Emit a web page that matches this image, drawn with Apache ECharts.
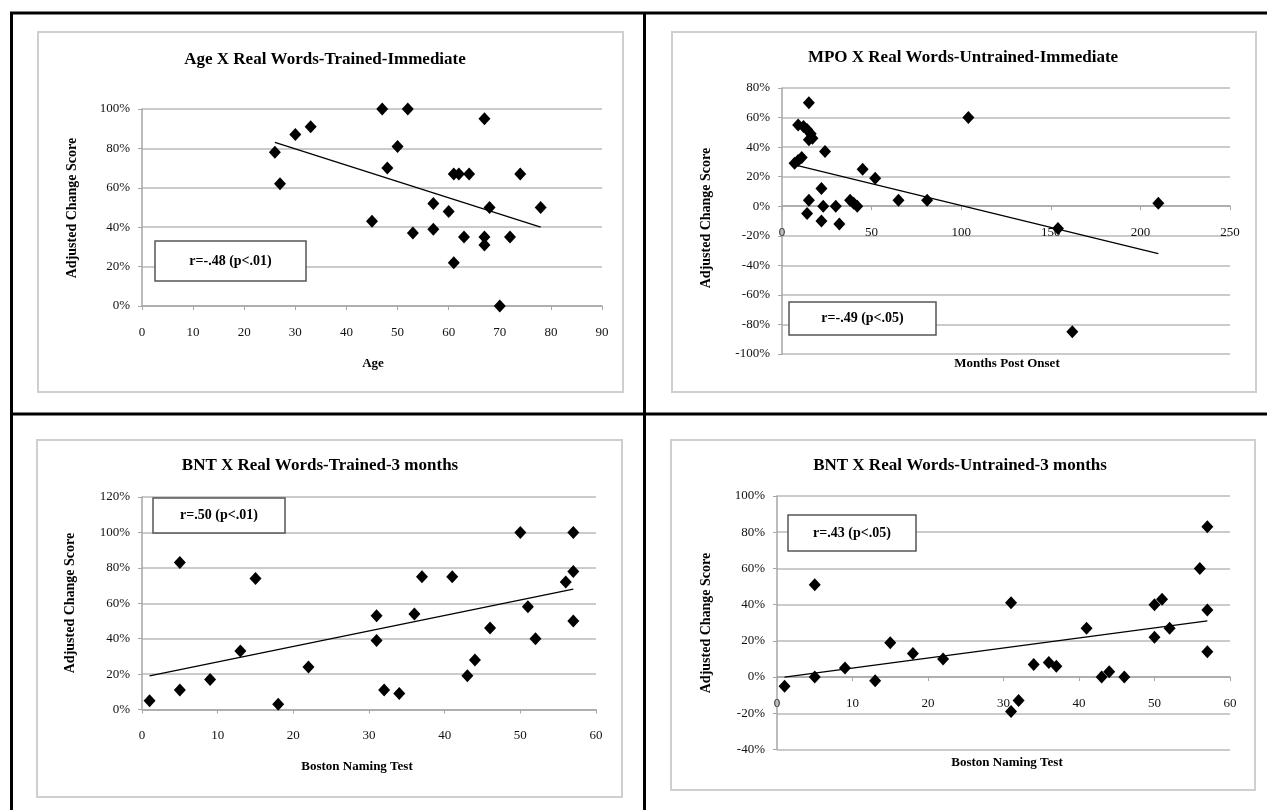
<!DOCTYPE html>
<html>
<head>
<meta charset="utf-8">
<script src="https://cdn.jsdelivr.net/npm/echarts@6/dist/echarts.min.js"></script>
<style>
html, body { margin: 0; padding: 0; background: #fff; }
#main { width: 1267px; height: 810px; }
</style>
</head>
<body>
<div id="main"></div>
<script>
// Age X Real Words-Trained-Immediate
const ageX = [26, 27, 30, 33, 45, 47, 48, 50, 52, 53, 57, 57, 60, 61, 61, 62, 63, 64, 67, 67, 67, 68, 70, 72, 74, 78]
const ageY = [78, 62, 87, 91, 43, 100, 70, 81, 100, 37, 52, 39, 48, 67, 22, 67, 35, 67, 95, 35, 31, 50, 0, 35, 67, 50]
const ageTrend = [[26, 83], [78, 40]]

// MPO X Real Words-Untrained-Immediate
const mpoX = [15, 9, 12, 14, 16, 17, 15, 7, 9, 11, 24, 15, 14, 22, 23, 22, 30, 32, 38, 40, 42, 45, 52, 65, 81, 104, 154, 162, 210]
const mpoY = [70, 55, 54, 52, 49, 46, 45, 29, 31, 33, 37, 4, -5, 12, 0, -10, 0, -12, 4, 2, 0, 25, 19, 4, 4, 60, -15, -85, 2]
const mpoTrend = [[7, 28], [210, -32]]

// BNT X Real Words-Trained-3 months
const bntTrX = [1, 5, 5, 9, 13, 15, 18, 22, 31, 31, 32, 34, 36, 37, 41, 43, 44, 46, 50, 51, 52, 56, 57, 57, 57]
const bntTrY = [5, 83, 11, 17, 33, 74, 3, 24, 53, 39, 11, 9, 54, 75, 75, 19, 28, 46, 100, 58, 40, 72, 100, 78, 50]
const bntTrTrend = [[1, 19], [57, 68]]

// BNT X Real Words-Untrained-3 months
const bntUnX = [1, 5, 5, 9, 13, 15, 18, 22, 31, 31, 32, 34, 36, 37, 41, 43, 44, 46, 50, 50, 51, 52, 56, 57, 57, 57]
const bntUnY = [-5, 51, 0, 5, -2, 19, 13, 10, 41, -19, -13, 7, 8, 6, 27, 0, 3, 0, 40, 22, 43, 27, 60, 83, 37, 14]
const bntUnTrend = [[1, 0], [57, 31]]

const titles = ['Age X Real Words-Trained-Immediate', 'MPO X Real Words-Untrained-Immediate',
    'BNT X Real Words-Trained-3 months', 'BNT X Real Words-Untrained-3 months']
const xNames = ['Age', 'Months Post Onset', 'Boston Naming Test', 'Boston Naming Test']
const notes = ['r=-.48 (p<.01)', 'r=-.49 (p<.05)', 'r=.50 (p<.01)', 'r=.43 (p<.05)']

const FONT = '"Liberation Serif", "Times New Roman", serif'
const zip = (xs, ys) => xs.map((x, i) => [x, ys[i]])

const grids = [
    { left: 142, top: 109, width: 460, height: 197 },
    { left: 782, top: 88, width: 448, height: 266 },
    { left: 142, top: 497, width: 454, height: 212.5 },
    { left: 777, top: 496, width: 453, height: 253.5 }
]
const yRange = [[0, 100], [-100, 80], [0, 120], [-40, 100]]

function xAxis(i, max, interval) {
    // put the x axis on the 0% line (offset up from the grid bottom)
    const r = yRange[i]
    const off = -grids[i].height * (0 - r[0]) / (r[1] - r[0])
    return {
        type: 'value', gridIndex: i, min: 0, max: max, interval: interval,
        position: 'bottom', offset: off,
        axisLine: { show: true, onZero: false, lineStyle: { color: '#a6a6a6', width: 1.5 } },
        axisTick: { show: true, length: 4, lineStyle: { color: '#a6a6a6' } },
        axisLabel: { margin: 20, color: '#111', fontFamily: FONT, fontSize: 13 },
        splitLine: { show: false }
    }
}

function yAxis(i) {
    return {
        type: 'value', gridIndex: i, min: yRange[i][0], max: yRange[i][1], interval: 20,
        axisLine: { show: true, onZero: false, lineStyle: { color: '#a6a6a6', width: 1.5 } },
        axisTick: { show: true, length: 4, lineStyle: { color: '#a6a6a6' } },
        axisLabel: { margin: 12, color: '#111', fontFamily: FONT, fontSize: 13, formatter: '{value}%' },
        splitLine: { show: true, lineStyle: { color: '#bababa', width: 1.6 } }
    }
}

function dots(i, xs, ys) {
    return {
        type: 'scatter', xAxisIndex: i, yAxisIndex: i, data: zip(xs, ys),
        symbol: 'diamond', symbolSize: [12, 13], itemStyle: { color: '#000', opacity: 1 }, z: 5
    }
}

function trend(i, pts) {
    return {
        type: 'line', xAxisIndex: i, yAxisIndex: i, data: pts, showSymbol: false,
        lineStyle: { color: '#000', width: 1.3 }, z: 4
    }
}

// chart frames, table lines, titles, axis names, r-boxes
const frames = [[38, 32, 585, 360], [672, 32, 584, 360], [37, 440, 585, 357], [671, 440, 584, 350]]
const titlePos = [[325, 60], [963, 58], [320, 466], [960, 466]]
const xNamePos = [[373, 364], [1007, 364], [357, 767], [1007, 763]]
const yNamePos = [[72, 208], [706, 218], [70, 603], [706, 623]]
const notePos = [[155, 241, 151, 40], [789, 302, 147, 33], [153, 498, 132, 35], [788, 515, 128, 36]]

const graphic = []
frames.forEach(f => graphic.push({
    type: 'rect', shape: { x: f[0], y: f[1], width: f[2], height: f[3] },
    style: { fill: 'none', stroke: '#cfcfcf', lineWidth: 2 }, z: 1
}))
const blk = { stroke: '#000', lineWidth: 3 }
graphic.push({ type: 'line', shape: { x1: 10, y1: 13, x2: 1267, y2: 13 }, style: blk })
graphic.push({ type: 'line', shape: { x1: 11.5, y1: 12, x2: 11.5, y2: 810 }, style: blk })
graphic.push({ type: 'line', shape: { x1: 644.5, y1: 12, x2: 644.5, y2: 810 }, style: blk })
graphic.push({ type: 'line', shape: { x1: 10, y1: 414, x2: 1267, y2: 414 }, style: blk })

titles.forEach((t, i) => graphic.push({
    type: 'text', x: titlePos[i][0], y: titlePos[i][1],
    style: { text: t, font: 'bold 17px ' + FONT, fill: '#000', textAlign: 'center', textVerticalAlign: 'middle' }
}))
xNames.forEach((t, i) => graphic.push({
    type: 'text', x: xNamePos[i][0], y: xNamePos[i][1],
    style: { text: t, font: 'bold 13px ' + FONT, fill: '#000', textAlign: 'center', textVerticalAlign: 'middle' }
}))
yNamePos.forEach(p => graphic.push({
    type: 'text', x: p[0], y: p[1], rotation: Math.PI / 2,
    style: { text: 'Adjusted Change Score', font: 'bold 14px ' + FONT, fill: '#000', textAlign: 'center', textVerticalAlign: 'middle' }
}))
notes.forEach((t, i) => {
    const b = notePos[i]
    graphic.push({
        type: 'rect', shape: { x: b[0], y: b[1], width: b[2], height: b[3] },
        style: { fill: '#fff', stroke: '#555', lineWidth: 1.5 }, z: 100
    })
    graphic.push({
        type: 'text', x: b[0] + b[2] / 2, y: b[1] + b[3] / 2, z: 101,
        style: { text: t, font: 'bold 14px ' + FONT, fill: '#000', textAlign: 'center', textVerticalAlign: 'middle' }
    })
})

const option = {
    animation: false,
    backgroundColor: '#fff',
    grid: grids,
    xAxis: [xAxis(0, 90, 10), xAxis(1, 250, 50), xAxis(2, 60, 10), xAxis(3, 60, 10)],
    yAxis: [yAxis(0), yAxis(1), yAxis(2), yAxis(3)],
    series: [
        dots(0, ageX, ageY), trend(0, ageTrend),
        dots(1, mpoX, mpoY), trend(1, mpoTrend),
        dots(2, bntTrX, bntTrY), trend(2, bntTrTrend),
        dots(3, bntUnX, bntUnY), trend(3, bntUnTrend)
    ],
    graphic: graphic
}

const chart = echarts.init(document.getElementById('main'))
chart.setOption(option)
</script>
</body>
</html>
